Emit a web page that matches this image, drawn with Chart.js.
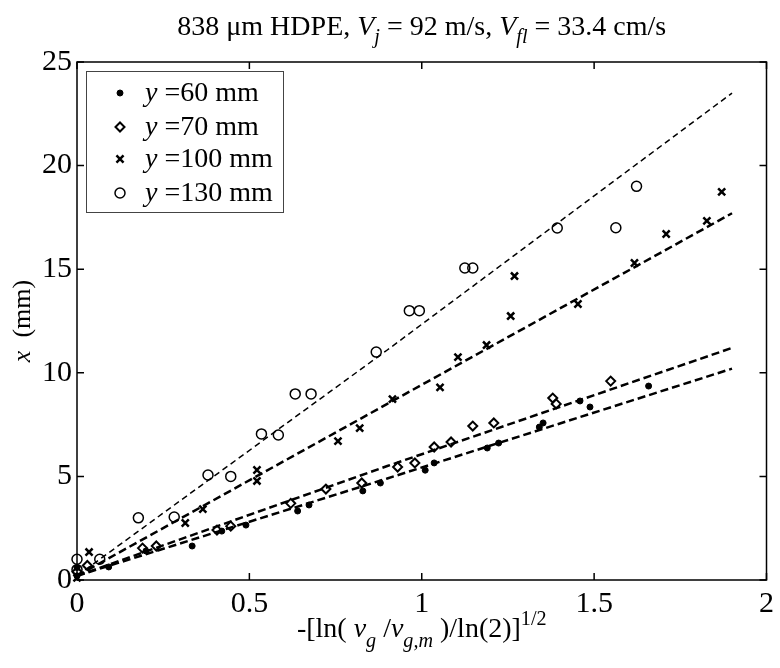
<!DOCTYPE html>
<html>
<head>
<meta charset="utf-8">
<script src="https://cdn.jsdelivr.net/npm/chart.js@4"></script>
<style>
  body { margin: 0; background: #fff; }
  #wrap { width: 780px; height: 668px; }
</style>
</head>
<body>
<div id="wrap"><canvas id="chart" width="780" height="668"></canvas></div>
<script>
// data
const x60 = [0, 0, 0.092, 0.2, 0.334, 0.42, 0.49, 0.64, 0.673, 0.829, 0.88, 1.01, 1.036, 1.19, 1.223, 1.341, 1.352, 1.459, 1.488, 1.658];
const y60 = [0.2, 0.6, 0.63, 1.4, 1.64, 2.36, 2.65, 3.33, 3.62, 4.3, 4.68, 5.3, 5.65, 6.37, 6.61, 7.38, 7.58, 8.64, 8.35, 9.36];

const x70 = [0, 0.03, 0.19, 0.23, 0.406, 0.446, 0.62, 0.722, 0.826, 0.93, 0.98, 1.036, 1.085, 1.148, 1.209, 1.38, 1.39, 1.548];
const y70 = [0.4, 0.7, 1.54, 1.64, 2.41, 2.6, 3.7, 4.39, 4.68, 5.45, 5.65, 6.42, 6.66, 7.43, 7.58, 8.78, 8.5, 9.6];

const x100 = [0, 0.035, 0.314, 0.365, 0.522, 0.522, 0.757, 0.82, 0.915, 1.053, 1.105, 1.188, 1.258, 1.269, 1.453, 1.617, 1.709, 1.827, 1.87];
const y100 = [0.1, 1.35, 2.75, 3.42, 5.31, 4.78, 6.7, 7.33, 8.73, 9.3, 10.76, 11.34, 12.74, 14.67, 13.32, 15.3, 16.7, 17.33, 18.73];

const x130 = [0, 0, 0.066, 0.178, 0.282, 0.38, 0.446, 0.535, 0.584, 0.633, 0.679, 0.868, 0.964, 0.993, 1.125, 1.148, 1.393, 1.563, 1.623];
const y130 = [1.0, 0.5, 1.0, 3.0, 3.04, 5.07, 5.0, 7.05, 7.0, 8.98, 8.98, 11.0, 13.0, 13.0, 15.06, 15.06, 16.99, 17.0, 19.0];

// dashed fit lines
const fitX = [0, 0.9, 1.9];
const fit60 = [0.2, 4.9, 10.2];
const fit70 = [0.2, 5.5, 11.2];
const fit100 = [0.2, 8.5, 17.7];
const fit130 = [0.2, 11.1, 23.5];

const xTicks = [0, 0.5, 1, 1.5, 2];
const yTicks = [0, 5, 10, 15, 20, 25];
const legendLabels = ["=60 mm", "=70 mm", "=100 mm", "=130 mm"];

const FONT = "'Liberation Serif', 'Times New Roman', serif";

function pts(xs, ys) {
  return xs.map((v, i) => ({ x: v, y: ys[i] }));
}

function markerSet(xs, ys, style, radius, fill, bw) {
  return {
    type: "scatter",
    data: pts(xs, ys),
    pointStyle: style,
    pointRadius: radius,
    pointBackgroundColor: fill,
    pointBorderColor: "#000",
    pointBorderWidth: bw,
    showLine: false,
    clip: false
  };
}

function fitSet(ys, width, dash) {
  return {
    type: "line",
    data: pts(fitX, ys),
    borderColor: "#000",
    borderWidth: width,
    borderDash: dash,
    pointRadius: 0,
    fill: false,
    tension: 0
  };
}

// draw a run of text pieces (italic / sub / superscript)
function drawRuns(ctx, runs, x, y, size) {
  let total = 0;
  runs.forEach((r) => {
    const s = r.small ? size * 0.72 : size;
    ctx.font = (r.it ? "italic " : "") + s + "px " + FONT;
    r.w = ctx.measureText(r.t).width;
    total += r.w;
  });
  let cx = x - total / 2;
  ctx.textAlign = "left";
  ctx.textBaseline = "alphabetic";
  ctx.fillStyle = "#000";
  runs.forEach((r) => {
    const s = r.small ? size * 0.72 : size;
    ctx.font = (r.it ? "italic " : "") + s + "px " + FONT;
    ctx.fillText(r.t, cx, y + (r.dy || 0));
    cx += r.w;
  });
}

const decorPlugin = {
  id: "decor",
  afterDatasetsDraw(chart) {
    const ctx = chart.ctx;
    const a = chart.chartArea;
    const xs = chart.scales.x, ys = chart.scales.y;
    ctx.save();

    // box and inward ticks
    ctx.strokeStyle = "#000";
    ctx.lineWidth = 1.5;
    ctx.strokeRect(a.left, a.top, a.right - a.left, a.bottom - a.top);
    ctx.beginPath();
    xTicks.forEach((v) => {
      const px = xs.getPixelForValue(v);
      ctx.moveTo(px, a.bottom); ctx.lineTo(px, a.bottom - 7);
      ctx.moveTo(px, a.top); ctx.lineTo(px, a.top + 7);
    });
    yTicks.forEach((v) => {
      const py = ys.getPixelForValue(v);
      ctx.moveTo(a.left, py); ctx.lineTo(a.left + 7, py);
      ctx.moveTo(a.right, py); ctx.lineTo(a.right - 7, py);
    });
    ctx.stroke();

    // legend
    const lx = 86, ly = 71, lw = 197, lh = 141;
    ctx.fillStyle = "#fff";
    ctx.fillRect(lx, ly, lw, lh);
    ctx.strokeStyle = "#444";
    ctx.lineWidth = 1;
    ctx.strokeRect(lx + 0.5, ly + 0.5, lw, lh);
    const rows = [93, 127, 159, 193];
    [0, 1, 2, 3].forEach((di, i) => {
      const ds = chart.data.datasets[di];
      ctx.fillStyle = ds.pointBackgroundColor;
      ctx.strokeStyle = "#000";
      ctx.lineWidth = ds.pointBorderWidth;
      Chart.helpers.drawPoint(ctx, {
        pointStyle: ds.pointStyle,
        radius: ds.pointRadius,
        borderWidth: ds.pointBorderWidth,
        rotation: 0
      }, 120, rows[i]);
      ctx.fillStyle = "#000";
      ctx.textAlign = "left";
      ctx.textBaseline = "middle";
      ctx.font = "italic 28px " + FONT;
      ctx.fillText("y", 145, rows[i] + 1);
      const yw = ctx.measureText("y ").width;
      ctx.font = "28px " + FONT;
      ctx.fillText(legendLabels[i], 145 + yw, rows[i] + 1);
    });

    // title
    drawRuns(ctx, [
      { t: "838 \u03bcm HDPE, " },
      { t: "V", it: true },
      { t: "j", it: true, small: true, dy: 8 },
      { t: " = 92 m/s, " },
      { t: "V", it: true },
      { t: "fl", it: true, small: true, dy: 8 },
      { t: " = 33.4 cm/s" }
    ], (a.left + a.right) / 2, 35, 28);

    // x axis title
    drawRuns(ctx, [
      { t: "-[ln( " },
      { t: "v", it: true },
      { t: "g", it: true, small: true, dy: 10 },
      { t: " /" },
      { t: "v", it: true },
      { t: "g,m", it: true, small: true, dy: 10 },
      { t: " )/ln(2)]" },
      { t: "1/2", small: true, dy: -12 }
    ], (a.left + a.right) / 2, 637, 28);

    // y axis title
    ctx.save();
    ctx.translate(30, (a.top + a.bottom) / 2);
    ctx.rotate(-Math.PI / 2);
    drawRuns(ctx, [
      { t: "x", it: true },
      { t: "  (mm)" }
    ], 0, 0, 26);
    ctx.restore();

    ctx.restore();
  }
};

new Chart("chart", {
  data: {
    datasets: [
      markerSet(x60, y60, "circle", 3, "#000", 1),
      markerSet(x70, y70, "rectRot", 4.5, "rgba(0,0,0,0)", 2),
      markerSet(x100, y100, "crossRot", 5, "#000", 2.5),
      markerSet(x130, y130, "circle", 5, "rgba(0,0,0,0)", 1.5),
      fitSet(fit60, 2.5, [8, 4]),
      fitSet(fit70, 2.5, [8, 4]),
      fitSet(fit100, 2.5, [8, 4]),
      fitSet(fit130, 1.5, [6, 4])
    ]
  },
  options: {
    responsive: false,
    animation: false,
    layout: { padding: { top: 62, right: 8, left: 0, bottom: 0 } },
    plugins: {
      legend: { display: false },
      tooltip: { enabled: false }
    },
    scales: {
      x: {
        type: "linear",
        min: 0,
        max: 2,
        grid: { display: false, drawTicks: false },
        border: { display: false },
        afterBuildTicks: (s) => { s.ticks = xTicks.map((v) => ({ value: v })); },
        ticks: {
          color: "#000",
          padding: 6,
          maxRotation: 0,
          font: { family: FONT, size: 30 },
          callback: (v) => String(v)
        },
        afterFit: (s) => { s.height = 88; }
      },
      y: {
        type: "linear",
        min: 0,
        max: 25,
        grid: { display: false, drawTicks: false },
        border: { display: false },
        afterBuildTicks: (s) => { s.ticks = yTicks.map((v) => ({ value: v })); },
        ticks: {
          color: "#000",
          padding: 5,
          font: { family: FONT, size: 30 },
          callback: (v) => String(v)
        },
        afterFit: (s) => { s.width = 77; }
      }
    }
  },
  plugins: [decorPlugin]
});
</script>
</body>
</html>
